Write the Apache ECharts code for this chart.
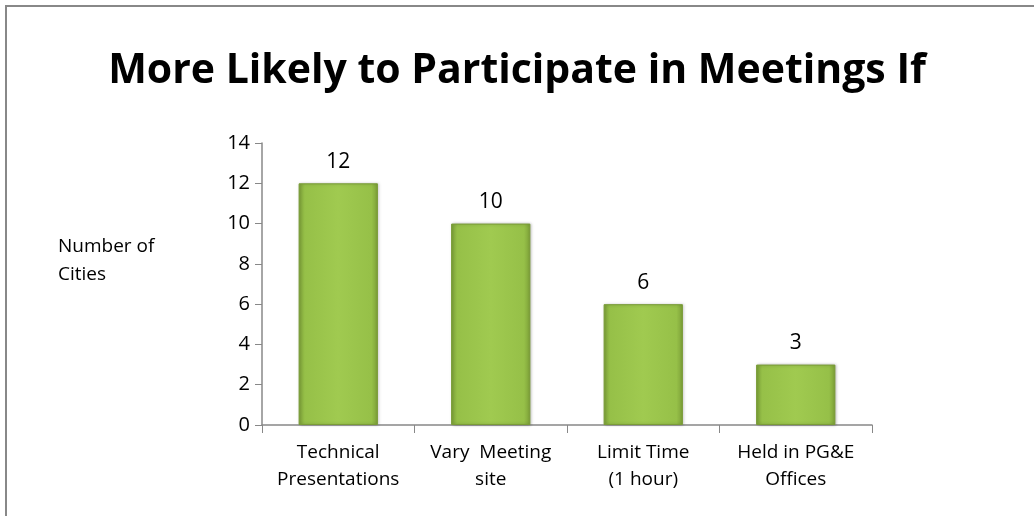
<!DOCTYPE html>
<html>
<head>
<meta charset="utf-8">
<script src="https://cdn.jsdelivr.net/npm/echarts@6/dist/echarts.min.js"></script>
<style>
  html, body { margin: 0; padding: 0; background: #fff; }
  #frame { position: absolute; left: 5px; top: 5px; width: 1034px; height: 516px; border-left: 2px solid #888; border-top: 2px solid #888; }
  #chart { position: absolute; left: 0; top: 0; width: 1034px; height: 516px; }
</style>
</head>
<body>
<div id="frame"></div>
<div id="chart"></div>
<script>
// 数据
const categories = ['Technical\nPresentations', 'Vary  Meeting\nsite', 'Limit Time\n(1 hour)', 'Held in PG&E\nOffices']
const cities = [12, 10, 6, 3]
const yTicks = { min: 0, max: 14, interval: 2 }

const myChart = echarts.init(document.getElementById('chart'))

const barColor = new echarts.graphic.LinearGradient(0, 0, 1, 0, [
    { offset: 0, color: '#7fa43a' },
    { offset: 0.08, color: '#96c048' },
    { offset: 0.5, color: '#a0ca50' },
    { offset: 0.92, color: '#96c048' },
    { offset: 1, color: '#7c9f38' }
])

const option = {
    animation: false,
    title: [
        {
            text: 'More Likely to Participate in Meetings If',
            left: 'center',
            top: 46,
            textStyle: {
                fontFamily: 'Open Sans',
                fontWeight: 'bold',
                fontSize: 41,
                color: '#000'
            }
        },
        {
            text: 'Number of\nCities',
            left: 53,
            top: 228,
            textStyle: {
                fontFamily: 'Open Sans',
                fontWeight: 'normal',
                fontSize: 19,
                lineHeight: 28,
                color: '#000'
            }
        }
    ],
    grid: {
        left: 262,
        right: 162,
        top: 143,
        bottom: 91
    },
    xAxis: {
        type: 'category',
        data: categories,
        axisLine: { lineStyle: { color: '#888', width: 1.5 } },
        axisTick: { show: true, length: 8, lineStyle: { color: '#888' } },
        axisLabel: {
            color: '#000',
            fontFamily: 'Open Sans',
            fontSize: 19,
            lineHeight: 27,
            margin: 14,
            interval: 0
        }
    },
    yAxis: {
        type: 'value',
        min: yTicks.min,
        max: yTicks.max,
        interval: yTicks.interval,
        axisLine: { show: true, lineStyle: { color: '#888', width: 1.5 } },
        axisTick: { show: true, length: 7, lineStyle: { color: '#888' } },
        splitLine: { show: false },
        axisLabel: {
            color: '#000',
            fontFamily: 'Open Sans',
            fontSize: 20,
            margin: 12
        }
    },
    series: [
        {
            type: 'bar',
            data: cities,
            barWidth: '52%',
            itemStyle: {
                color: barColor,
                borderColor: '#7a9c37',
                borderWidth: 1,
                shadowColor: 'rgba(0,0,0,0.25)',
                shadowBlur: 3,
                shadowOffsetX: 1
            },
            label: {
                show: true,
                position: 'top',
                distance: 11,
                color: '#000',
                fontFamily: 'Open Sans',
                fontSize: 21
            }
        }
    ]
}

myChart.setOption(option)
window.addEventListener('resize', () => {
    myChart.resize()
})
</script>
</body>
</html>
